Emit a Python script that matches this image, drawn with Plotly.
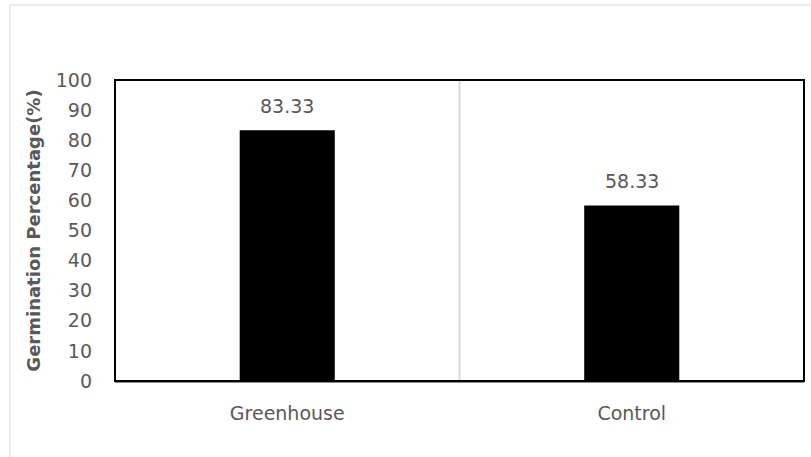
import plotly.graph_objects as go

categories = ["Greenhouse", "Control"]
values = [83.33, 58.33]
value_labels = ["83.33", "58.33"]
y_ticks = [0, 10, 20, 30, 40, 50, 60, 70, 80, 90, 100]

FONT = "DejaVu Sans"
GRAY = "#595959"

fig = go.Figure()
fig.add_trace(go.Bar(
    x=categories, y=values, width=0.276,
    marker=dict(color="black", line=dict(width=0)),
))

for c, v, t in zip(categories, values, value_labels):
    fig.add_annotation(x=c, y=v, text=t, showarrow=False, yanchor="bottom", yshift=11,
                       font=dict(family=FONT, size=19, color=GRAY))

fig.update_layout(
    width=811, height=457,
    margin=dict(l=115, r=7, t=80, b=76),
    paper_bgcolor="white", plot_bgcolor="white",
    showlegend=False,
    xaxis=dict(range=[-0.5, 1.5], showgrid=False, showline=True, linecolor="#8c8c8c", linewidth=2,
               tickfont=dict(family=FONT, size=19, color=GRAY), ticks="", ticklabelstandoff=14),
    yaxis=dict(range=[0, 100], tickvals=y_ticks, showgrid=False, zeroline=False,
               tickfont=dict(family=FONT, size=19, color=GRAY), ticks="", ticklabelstandoff=22,
               title=dict(text="<b>Germination Percentage(%)</b>", font=dict(family=FONT, size=18, color=GRAY), standoff=10)),
    shapes=[
        dict(type="rect", xref="paper", yref="paper", x0=-105/689, x1=1.02, y0=-1.0, y1=1 + 75/301,
             line=dict(color="#d9d9d9", width=1), layer="below"),
        dict(type="line", xref="x", yref="paper", x0=0.5, x1=0.5, y0=0, y1=1,
             line=dict(color="#d9d9d9", width=2), layer="below"),
        dict(type="rect", xref="paper", yref="paper", x0=0, x1=1, y0=0, y1=1,
             line=dict(color="black", width=2), layer="above"),
    ],
)
fig.write_html("out.html")
